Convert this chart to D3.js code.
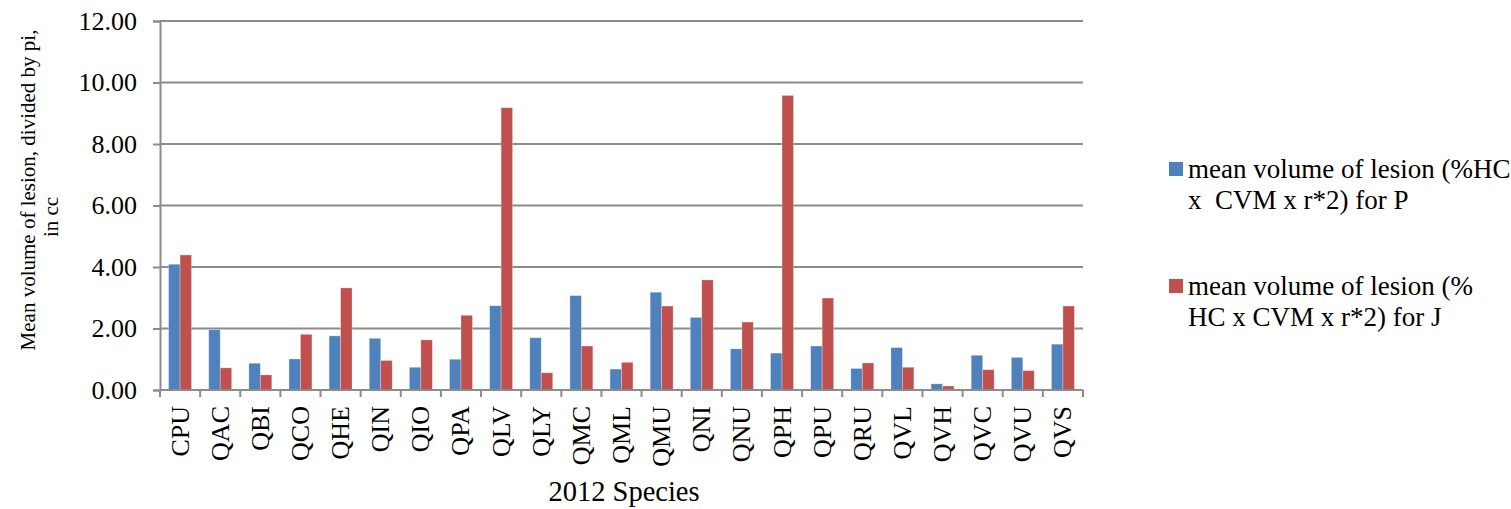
<!DOCTYPE html>
<html>
<head>
<meta charset="utf-8">
<script src="https://cdn.jsdelivr.net/npm/d3@7"></script>
<style>
  body { margin: 0; background: #fff; }
  svg text { font-family: "Liberation Serif", "Times New Roman", serif; fill: #000; }
</style>
</head>
<body>
<svg id="chart" width="1511" height="509"></svg>
<script>
// species codes along the x axis
const categories = ["CPU", "QAC", "QBI", "QCO", "QHE", "QIN", "QIO", "QPA", "QLV", "QLY", "QMC", "QML",
  "QMU", "QNI", "QNU", "QPH", "QPU", "QRU", "QVL", "QVH", "QVC", "QVU", "QVS"];

const seriesP = [4.09, 1.96, 0.87, 1.01, 1.76, 1.68, 0.74, 1.00, 2.74, 1.70, 3.07, 0.68,
  3.18, 2.36, 1.34, 1.20, 1.43, 0.70, 1.38, 0.20, 1.13, 1.06, 1.49];
const seriesJ = [4.39, 0.72, 0.49, 1.81, 3.32, 0.96, 1.63, 2.43, 9.18, 0.56, 1.43, 0.90,
  2.73, 3.58, 2.21, 9.58, 2.99, 0.88, 0.74, 0.13, 0.66, 0.63, 2.73];

const yTicks = [0, 2, 4, 6, 8, 10, 12];

const seriesNames = [
  ["mean volume of lesion (%HC", "x  CVM x r*2) for P"],
  ["mean volume of lesion (%", "HC x CVM x r*2) for J"]
];
const colors = ["#4F81BD", "#C0504D"];

const svg = d3.select("#chart");
const margin = { left: 160, right: 1083, top: 21, bottom: 390 };
const gridColor = "#8c8c8c";
const serif = "Liberation Serif, Times New Roman, serif";

let x = d3.scaleBand()
  .domain(categories)
  .range([margin.left, margin.right]);

// two bars per species, Excel-style gap width of 150%
let inner = d3.scaleBand()
  .domain([0, 1])
  .range([0, x.bandwidth()])
  .paddingInner(0)
  .paddingOuter(0.75);

let y = d3.scaleLinear()
  .domain([0, 12])
  .range([margin.bottom, margin.top]);

// gridlines
svg.append("g")
  .selectAll("line")
  .data(yTicks.filter(d => d > 0))
  .join("line")
  .attr("x1", margin.left).attr("x2", margin.right)
  .attr("y1", d => y(d)).attr("y2", d => y(d))
  .style("stroke", gridColor)
  .style("stroke-width", 2);

// bars
const rows = categories.map((c, i) => ({ name: c, values: [seriesP[i], seriesJ[i]] }));

let groups = svg.append("g")
  .selectAll("g")
  .data(rows)
  .join("g")
  .attr("transform", d => `translate(${x(d.name)},0)`);

groups.selectAll("rect")
  .data(d => d.values.map((v, k) => ({ k: k, v: v })))
  .join("rect")
  .attr("x", d => inner(d.k))
  .attr("width", inner.bandwidth())
  .attr("y", d => y(d.v))
  .attr("height", d => y(0) - y(d.v))
  .style("fill", d => colors[d.k])
  .style("stroke", "#fff")
  .style("stroke-opacity", 0.35)
  .style("stroke-width", 0.8);

// y axis
let yAxis = svg.append("g")
  .attr("transform", `translate(${margin.left},0)`)
  .call(d3.axisLeft(y)
    .tickValues(yTicks)
    .tickFormat(d3.format(".2f"))
    .tickSize(7)
    .tickPadding(16));

yAxis.attr("font-family", serif);
yAxis.selectAll("path, line").style("stroke", gridColor).style("stroke-width", 2);
yAxis.selectAll("text")
  .style("font-family", serif)
  .style("font-size", "26px")
  .style("fill", "#000");

// x axis: line, boundary ticks, rotated labels
let xAxis = svg.append("g");
xAxis.append("line")
  .attr("x1", margin.left).attr("x2", margin.right)
  .attr("y1", margin.bottom).attr("y2", margin.bottom)
  .style("stroke", gridColor)
  .style("stroke-width", 2);

xAxis.selectAll(".tick")
  .data(categories.map(c => x(c)).concat([x.range()[1]]))
  .join("line")
  .attr("class", "tick")
  .attr("x1", d => d).attr("x2", d => d)
  .attr("y1", margin.bottom).attr("y2", margin.bottom + 7)
  .style("stroke", gridColor)
  .style("stroke-width", 2);

xAxis.selectAll("text")
  .data(categories)
  .join("text")
  .attr("transform", d => `translate(${x(d) + x.bandwidth() / 2 + 8.5},${margin.bottom + 16}) rotate(-90)`)
  .attr("text-anchor", "end")
  .style("font-family", serif)
  .style("font-size", "26px")
  .text(d => d);

// axis titles
svg.append("text")
  .attr("x", 624)
  .attr("y", 501)
  .attr("text-anchor", "middle")
  .style("font-family", serif)
  .style("font-size", "28.5px")
  .text("2012 Species");

svg.append("text")
  .attr("transform", "translate(35,190) rotate(-90)")
  .attr("text-anchor", "middle")
  .style("font-family", serif)
  .style("font-size", "21px")
  .text("Mean volume of lesion, divided by pi,");

svg.append("text")
  .attr("transform", "translate(58,217) rotate(-90)")
  .attr("text-anchor", "middle")
  .style("font-family", serif)
  .style("font-size", "21px")
  .text("in cc");

// legend
const legendY = [162, 279];
let legend = svg.append("g")
  .selectAll("g")
  .data(seriesNames)
  .join("g")
  .attr("transform", (d, i) => `translate(1169,${legendY[i]})`);

legend.append("rect")
  .attr("width", 14).attr("height", 14)
  .style("fill", (d, i) => colors[i]);

legend.append("text")
  .attr("x", 19)
  .attr("y", 16)
  .style("font-family", serif)
  .style("font-size", "27px")
  .style("white-space", "pre")
  .selectAll("tspan")
  .data(d => d)
  .join("tspan")
  .attr("x", 19)
  .attr("dy", (d, i) => i === 0 ? 0 : 31)
  .text(d => d);
</script>
</body>
</html>
